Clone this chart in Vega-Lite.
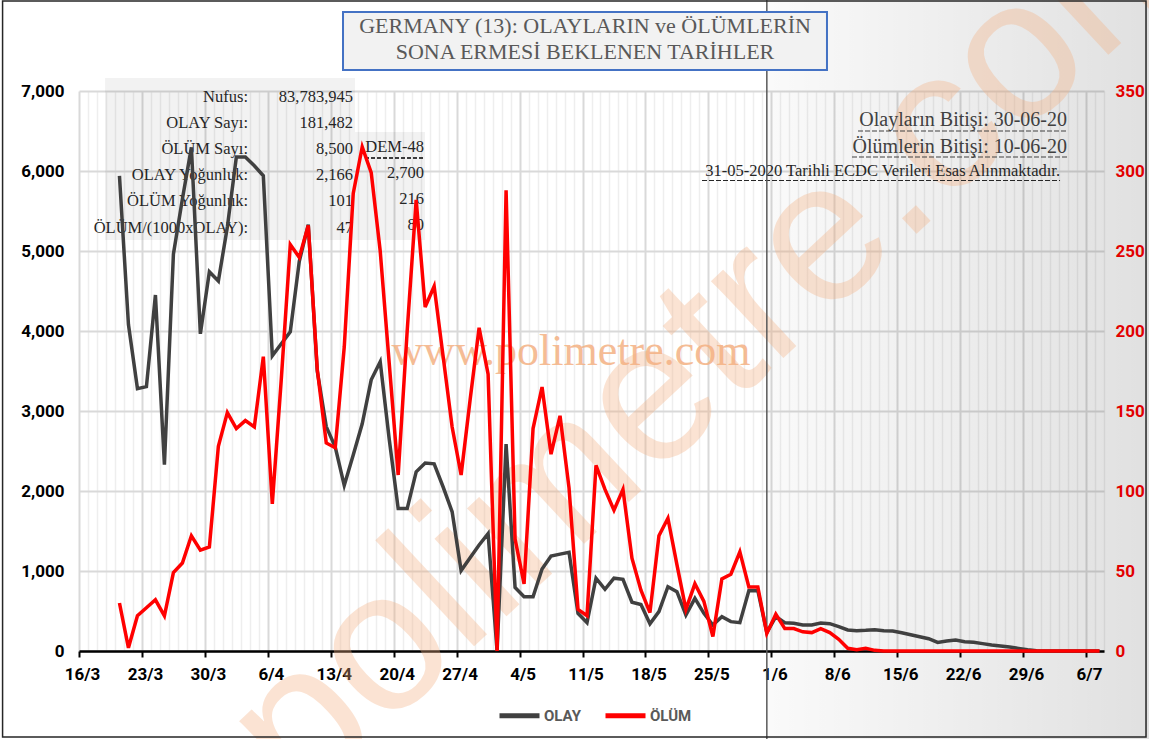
{
  "$schema": "https://vega.github.io/schema/vega-lite/v6.json",
  "width": 1025,
  "height": 560,
  "autosize": {"type": "none"},
  "padding": {"left": 79, "top": 91, "right": 45, "bottom": 88},
  "background": "#ffffff",
  "config": {"view": {"stroke": null}},
  "datasets": {
    "one": [{}],
    "d": [
      {"date":"2020-03-20","OLAY":5940,"OLUM":30},
      {"date":"2020-03-21","OLAY":4080,"OLUM":2},
      {"date":"2020-03-22","OLAY":3280,"OLUM":22},
      {"date":"2020-03-23","OLAY":3305,"OLUM":27},
      {"date":"2020-03-24","OLAY":4450,"OLUM":32},
      {"date":"2020-03-25","OLAY":2330,"OLUM":22},
      {"date":"2020-03-26","OLAY":4960,"OLUM":49},
      {"date":"2020-03-27","OLAY":5650,"OLUM":55},
      {"date":"2020-03-28","OLAY":6295,"OLUM":72},
      {"date":"2020-03-29","OLAY":3965,"OLUM":63},
      {"date":"2020-03-30","OLAY":4740,"OLUM":65},
      {"date":"2020-03-31","OLAY":4625,"OLUM":128},
      {"date":"2020-04-01","OLAY":5300,"OLUM":149},
      {"date":"2020-04-02","OLAY":6175,"OLUM":139},
      {"date":"2020-04-03","OLAY":6175,"OLUM":144},
      {"date":"2020-04-04","OLAY":6065,"OLUM":140},
      {"date":"2020-04-05","OLAY":5940,"OLUM":184},
      {"date":"2020-04-06","OLAY":3690,"OLUM":92},
      {"date":"2020-04-07","OLAY":3840,"OLUM":170},
      {"date":"2020-04-08","OLAY":3990,"OLUM":254},
      {"date":"2020-04-09","OLAY":4870,"OLUM":246},
      {"date":"2020-04-10","OLAY":5330,"OLUM":266},
      {"date":"2020-04-11","OLAY":3500,"OLUM":176},
      {"date":"2020-04-12","OLAY":2805,"OLUM":130},
      {"date":"2020-04-13","OLAY":2550,"OLUM":127},
      {"date":"2020-04-14","OLAY":2070,"OLUM":190},
      {"date":"2020-04-15","OLAY":2450,"OLUM":286},
      {"date":"2020-04-16","OLAY":2840,"OLUM":315},
      {"date":"2020-04-17","OLAY":3390,"OLUM":299},
      {"date":"2020-04-18","OLAY":3615,"OLUM":250},
      {"date":"2020-04-19","OLAY":2650,"OLUM":180},
      {"date":"2020-04-20","OLAY":1780,"OLUM":110},
      {"date":"2020-04-21","OLAY":1780,"OLUM":200},
      {"date":"2020-04-22","OLAY":2240,"OLUM":282},
      {"date":"2020-04-23","OLAY":2350,"OLUM":215},
      {"date":"2020-04-24","OLAY":2340,"OLUM":228},
      {"date":"2020-04-25","OLAY":2050,"OLUM":184},
      {"date":"2020-04-26","OLAY":1740,"OLUM":140},
      {"date":"2020-04-27","OLAY":1005,"OLUM":110},
      {"date":"2020-04-28","OLAY":1165,"OLUM":157},
      {"date":"2020-04-29","OLAY":1325,"OLUM":202},
      {"date":"2020-04-30","OLAY":1468,"OLUM":173},
      {"date":"2020-05-01","OLAY":0,"OLUM":0},
      {"date":"2020-05-02","OLAY":2585,"OLUM":288},
      {"date":"2020-05-03","OLAY":794,"OLUM":70},
      {"date":"2020-05-04","OLAY":679,"OLUM":42},
      {"date":"2020-05-05","OLAY":679,"OLUM":139},
      {"date":"2020-05-06","OLAY":1026,"OLUM":165},
      {"date":"2020-05-07","OLAY":1188,"OLUM":123},
      {"date":"2020-05-08","OLAY":1211,"OLUM":147},
      {"date":"2020-05-09","OLAY":1234,"OLUM":102},
      {"date":"2020-05-10","OLAY":471,"OLUM":26},
      {"date":"2020-05-11","OLAY":355,"OLUM":22},
      {"date":"2020-05-12","OLAY":910,"OLUM":116},
      {"date":"2020-05-13","OLAY":771,"OLUM":101},
      {"date":"2020-05-14","OLAY":910,"OLUM":88},
      {"date":"2020-05-15","OLAY":896,"OLUM":101},
      {"date":"2020-05-16","OLAY":610,"OLUM":58},
      {"date":"2020-05-17","OLAY":580,"OLUM":38},
      {"date":"2020-05-18","OLAY":340,"OLUM":24},
      {"date":"2020-05-19","OLAY":492,"OLUM":72},
      {"date":"2020-05-20","OLAY":804,"OLUM":83},
      {"date":"2020-05-21","OLAY":742,"OLUM":54},
      {"date":"2020-05-22","OLAY":450,"OLUM":26},
      {"date":"2020-05-23","OLAY":658,"OLUM":42},
      {"date":"2020-05-24","OLAY":471,"OLUM":31},
      {"date":"2020-05-25","OLAY":325,"OLUM":9},
      {"date":"2020-05-26","OLAY":429,"OLUM":45},
      {"date":"2020-05-27","OLAY":367,"OLUM":48},
      {"date":"2020-05-28","OLAY":354,"OLUM":62},
      {"date":"2020-05-29","OLAY":754,"OLUM":40},
      {"date":"2020-05-30","OLAY":754,"OLUM":40},
      {"date":"2020-05-31","OLAY":230,"OLUM":11},
      {"date":"2020-06-01","OLAY":430,"OLUM":23},
      {"date":"2020-06-02","OLAY":354,"OLUM":14},
      {"date":"2020-06-03","OLAY":346,"OLUM":14},
      {"date":"2020-06-04","OLAY":325,"OLUM":12},
      {"date":"2020-06-05","OLAY":325,"OLUM":11.5},
      {"date":"2020-06-06","OLAY":350,"OLUM":14},
      {"date":"2020-06-07","OLAY":342,"OLUM":11.5},
      {"date":"2020-06-08","OLAY":304,"OLUM":7.3},
      {"date":"2020-06-09","OLAY":263,"OLUM":1.7},
      {"date":"2020-06-10","OLAY":254,"OLUM":0.8},
      {"date":"2020-06-11","OLAY":258,"OLUM":1.7},
      {"date":"2020-06-12","OLAY":267,"OLUM":0.4},
      {"date":"2020-06-13","OLAY":254,"OLUM":0},
      {"date":"2020-06-14","OLAY":250,"OLUM":0},
      {"date":"2020-06-15","OLAY":229,"OLUM":0},
      {"date":"2020-06-16","OLAY":204,"OLUM":0},
      {"date":"2020-06-17","OLAY":179,"OLUM":0},
      {"date":"2020-06-18","OLAY":154,"OLUM":0},
      {"date":"2020-06-19","OLAY":108,"OLUM":0},
      {"date":"2020-06-20","OLAY":125,"OLUM":0},
      {"date":"2020-06-21","OLAY":137,"OLUM":0},
      {"date":"2020-06-22","OLAY":117,"OLUM":0},
      {"date":"2020-06-23","OLAY":108,"OLUM":0},
      {"date":"2020-06-24","OLAY":92,"OLUM":0},
      {"date":"2020-06-25","OLAY":75,"OLUM":0},
      {"date":"2020-06-26","OLAY":63,"OLUM":0},
      {"date":"2020-06-27","OLAY":50,"OLUM":0},
      {"date":"2020-06-28","OLAY":33,"OLUM":0},
      {"date":"2020-06-29","OLAY":17,"OLUM":0},
      {"date":"2020-06-30","OLAY":4,"OLUM":0},
      {"date":"2020-07-01","OLAY":0,"OLUM":0},
      {"date":"2020-07-02","OLAY":0,"OLUM":0},
      {"date":"2020-07-03","OLAY":0,"OLUM":0},
      {"date":"2020-07-04","OLAY":0,"OLUM":0},
      {"date":"2020-07-05","OLAY":0,"OLUM":0},
      {"date":"2020-07-06","OLAY":0,"OLUM":0},
      {"date":"2020-07-07","OLAY":0,"OLUM":0}
    ]
  },
  "layer": [
    {
      "layer": [
        {
          "data": {"name": "one"},
          "mark": {"type": "rect", "clip": false, "fill": {"gradient": "linear", "x1": 0, "y1": 0, "x2": 1, "y2": 0, "stops": [{"offset": 0, "color": "rgba(0,0,0,0.02)"}, {"offset": 1, "color": "rgba(0,0,0,0.12)"}]}},
          "encoding": {
            "x": {"datum": {"year": 2020, "month": 5, "date": 31, "hours": 12, "utc": true}, "type": "temporal", "scale": {"type": "utc", "domain": [{"year": 2020, "month": 3, "date": 16, "utc": true}, {"year": 2020, "month": 7, "date": 8, "utc": true}], "nice": false}, "axis": {"title": null}},
            "x2": {"datum": {"year": 2020, "month": 7, "date": 13, "hours": 12, "utc": true}},
            "y": {"datum": 8200, "type": "quantitative", "scale": {"domain": [0, 7000], "nice": false, "zero": false}, "axis": {"title": null}},
            "y2": {"datum": -1150}
          }
        },
        {
          "data": {"name": "one"},
          "mark": {"type": "text", "clip": false, "text": "polimetre.com", "font": "Liberation Sans", "fontSize": 200, "angle": -43, "fill": "#f4b183", "opacity": 0.35, "align": "center", "baseline": "middle"},
          "encoding": {
            "x": {"datum": {"year": 2020, "month": 5, "date": 26, "hours": 7, "utc": true}, "type": "temporal", "scale": {"type": "utc", "domain": [{"year": 2020, "month": 3, "date": 16, "utc": true}, {"year": 2020, "month": 7, "date": 8, "utc": true}], "nice": false}, "axis": {"title": null}},
            "y": {"datum": 3950, "type": "quantitative", "scale": {"domain": [0, 7000], "nice": false, "zero": false}, "axis": {"title": null}}
          }
        },
        {
          "data": {"name": "one"},
          "mark": {"type": "text", "clip": false, "text": "www.polimetre.com", "font": "Liberation Serif", "fontSize": 44, "fill": "#f4b183", "opacity": 0.85, "align": "center", "baseline": "middle"},
          "encoding": {
            "x": {"datum": {"year": 2020, "month": 5, "date": 9, "hours": 17, "minutes": 17, "utc": true}, "type": "temporal", "scale": {"type": "utc", "domain": [{"year": 2020, "month": 3, "date": 16, "utc": true}, {"year": 2020, "month": 7, "date": 8, "utc": true}], "nice": false}, "axis": {"title": null}},
            "y": {"datum": 3737, "type": "quantitative", "scale": {"domain": [0, 7000], "nice": false, "zero": false}, "axis": {"title": null}}
          }
        },
        {
          "data": {"name": "one"},
          "mark": {"type": "rect", "clip": false, "fill": "#000000", "fillOpacity": 0.05},
          "encoding": {
            "x": {"datum": {"year": 2020, "month": 3, "date": 18, "hours": 21, "minutes": 25, "utc": true}, "type": "temporal", "scale": {"type": "utc", "domain": [{"year": 2020, "month": 3, "date": 16, "utc": true}, {"year": 2020, "month": 7, "date": 8, "utc": true}], "nice": false}, "axis": {"title": null}},
            "x2": {"datum": {"year": 2020, "month": 4, "date": 15, "hours": 16, "minutes": 45, "utc": true}},
            "y": {"datum": 7162, "type": "quantitative", "scale": {"domain": [0, 7000], "nice": false, "zero": false}, "axis": {"title": null}},
            "y2": {"datum": 5137}
          }
        },
        {
          "data": {"name": "one"},
          "mark": {"type": "rect", "clip": false, "fill": "#000000", "fillOpacity": 0.05},
          "encoding": {
            "x": {"datum": {"year": 2020, "month": 4, "date": 15, "hours": 16, "minutes": 45, "utc": true}, "type": "temporal", "scale": {"type": "utc", "domain": [{"year": 2020, "month": 3, "date": 16, "utc": true}, {"year": 2020, "month": 7, "date": 8, "utc": true}], "nice": false}, "axis": {"title": null}},
            "x2": {"datum": {"year": 2020, "month": 4, "date": 23, "hours": 11, "minutes": 36, "utc": true}},
            "y": {"datum": 6487, "type": "quantitative", "scale": {"domain": [0, 7000], "nice": false, "zero": false}, "axis": {"title": null}},
            "y2": {"datum": 5137}
          }
        },
        {
          "data": {"name": "one"},
          "mark": {"type": "text", "clip": false, "text": ["Nufus:", "OLAY Sayı:", "ÖLÜM Sayı:", "OLAY Yoğunluk:", "ÖLÜM Yoğunluk:", "ÖLÜM/(1000xOLAY):"], "lineHeight": 26.2, "font": "Liberation Serif", "fontSize": 16.5, "fill": "#262626", "align": "right", "baseline": "middle"},
          "encoding": {
            "x": {"datum": {"year": 2020, "month": 4, "date": 3, "hours": 19, "minutes": 8, "utc": true}, "type": "temporal", "scale": {"type": "utc", "domain": [{"year": 2020, "month": 3, "date": 16, "utc": true}, {"year": 2020, "month": 7, "date": 8, "utc": true}], "nice": false}, "axis": {"title": null}},
            "y": {"datum": 6929, "type": "quantitative", "scale": {"domain": [0, 7000], "nice": false, "zero": false}, "axis": {"title": null}}
          }
        },
        {
          "data": {"name": "one"},
          "mark": {"type": "text", "clip": false, "text": ["83,783,945", "181,482", "8,500", "2,166", "101", "47"], "lineHeight": 26.2, "font": "Liberation Serif", "fontSize": 16.5, "fill": "#262626", "align": "right", "baseline": "middle"},
          "encoding": {
            "x": {"datum": {"year": 2020, "month": 4, "date": 15, "hours": 11, "minutes": 24, "utc": true}, "type": "temporal", "scale": {"type": "utc", "domain": [{"year": 2020, "month": 3, "date": 16, "utc": true}, {"year": 2020, "month": 7, "date": 8, "utc": true}], "nice": false}, "axis": {"title": null}},
            "y": {"datum": 6929, "type": "quantitative", "scale": {"domain": [0, 7000], "nice": false, "zero": false}, "axis": {"title": null}}
          }
        },
        {
          "data": {"name": "one"},
          "mark": {"type": "text", "clip": false, "text": ["DEM-48", "2,700", "216", "80"], "lineHeight": 26.2, "font": "Liberation Serif", "fontSize": 16.5, "fill": "#262626", "align": "right", "baseline": "middle"},
          "encoding": {
            "x": {"datum": {"year": 2020, "month": 4, "date": 23, "hours": 8, "minutes": 56, "utc": true}, "type": "temporal", "scale": {"type": "utc", "domain": [{"year": 2020, "month": 3, "date": 16, "utc": true}, {"year": 2020, "month": 7, "date": 8, "utc": true}], "nice": false}, "axis": {"title": null}},
            "y": {"datum": 6304, "type": "quantitative", "scale": {"domain": [0, 7000], "nice": false, "zero": false}, "axis": {"title": null}}
          }
        },
        {
          "data": {"name": "one"},
          "mark": {"type": "rule", "clip": false, "color": "#000000", "strokeWidth": 1.5, "strokeDash": [4, 2]},
          "encoding": {
            "x": {"datum": {"year": 2020, "month": 4, "date": 16, "hours": 19, "minutes": 26, "utc": true}, "type": "temporal", "scale": {"type": "utc", "domain": [{"year": 2020, "month": 3, "date": 16, "utc": true}, {"year": 2020, "month": 7, "date": 8, "utc": true}], "nice": false}, "axis": {"title": null}},
            "x2": {"datum": {"year": 2020, "month": 4, "date": 23, "hours": 8, "minutes": 56, "utc": true}},
            "y": {"datum": 6162, "type": "quantitative", "scale": {"domain": [0, 7000], "nice": false, "zero": false}, "axis": {"title": null}}
          }
        },
        {
          "data": {"name": "one"},
          "mark": {"type": "text", "clip": false, "text": "Olayların Bitişi: 30-06-20", "font": "Liberation Serif", "fontSize": 20, "fill": "#404040", "align": "right", "baseline": "middle"},
          "encoding": {
            "x": {"datum": {"year": 2020, "month": 7, "date": 3, "hours": 21, "minutes": 19, "utc": true}, "type": "temporal", "scale": {"type": "utc", "domain": [{"year": 2020, "month": 3, "date": 16, "utc": true}, {"year": 2020, "month": 7, "date": 8, "utc": true}], "nice": false}, "axis": {"title": null}},
            "y": {"datum": 6637, "type": "quantitative", "scale": {"domain": [0, 7000], "nice": false, "zero": false}, "axis": {"title": null}}
          }
        },
        {
          "data": {"name": "one"},
          "mark": {"type": "text", "clip": false, "text": "Ölümlerin Bitişi: 10-06-20", "font": "Liberation Serif", "fontSize": 20, "fill": "#404040", "align": "right", "baseline": "middle"},
          "encoding": {
            "x": {"datum": {"year": 2020, "month": 7, "date": 3, "hours": 21, "minutes": 19, "utc": true}, "type": "temporal", "scale": {"type": "utc", "domain": [{"year": 2020, "month": 3, "date": 16, "utc": true}, {"year": 2020, "month": 7, "date": 8, "utc": true}], "nice": false}, "axis": {"title": null}},
            "y": {"datum": 6294, "type": "quantitative", "scale": {"domain": [0, 7000], "nice": false, "zero": false}, "axis": {"title": null}}
          }
        },
        {
          "data": {"name": "one"},
          "mark": {"type": "text", "clip": false, "text": "31-05-2020 Tarihli ECDC Verileri Esas Alınmaktadır.", "font": "Liberation Serif", "fontSize": 16.5, "fill": "#262626", "align": "right", "baseline": "middle"},
          "encoding": {
            "x": {"datum": {"year": 2020, "month": 7, "date": 3, "hours": 2, "minutes": 37, "utc": true}, "type": "temporal", "scale": {"type": "utc", "domain": [{"year": 2020, "month": 3, "date": 16, "utc": true}, {"year": 2020, "month": 7, "date": 8, "utc": true}], "nice": false}, "axis": {"title": null}},
            "y": {"datum": 6000, "type": "quantitative", "scale": {"domain": [0, 7000], "nice": false, "zero": false}, "axis": {"title": null}}
          }
        },
        {
          "data": {"name": "one"},
          "mark": {"type": "rule", "clip": false, "color": "#404040", "strokeWidth": 1.2, "strokeDash": [5, 2]},
          "encoding": {
            "x": {"datum": {"year": 2020, "month": 6, "date": 10, "hours": 15, "minutes": 22, "utc": true}, "type": "temporal", "scale": {"type": "utc", "domain": [{"year": 2020, "month": 3, "date": 16, "utc": true}, {"year": 2020, "month": 7, "date": 8, "utc": true}], "nice": false}, "axis": {"title": null}},
            "x2": {"datum": {"year": 2020, "month": 7, "date": 3, "hours": 21, "minutes": 19, "utc": true}},
            "y": {"datum": 6500, "type": "quantitative", "scale": {"domain": [0, 7000], "nice": false, "zero": false}, "axis": {"title": null}}
          }
        },
        {
          "data": {"name": "one"},
          "mark": {"type": "rule", "clip": false, "color": "#404040", "strokeWidth": 1.2, "strokeDash": [5, 2]},
          "encoding": {
            "x": {"datum": {"year": 2020, "month": 6, "date": 9, "hours": 23, "minutes": 20, "utc": true}, "type": "temporal", "scale": {"type": "utc", "domain": [{"year": 2020, "month": 3, "date": 16, "utc": true}, {"year": 2020, "month": 7, "date": 8, "utc": true}], "nice": false}, "axis": {"title": null}},
            "x2": {"datum": {"year": 2020, "month": 7, "date": 3, "hours": 21, "minutes": 19, "utc": true}},
            "y": {"datum": 6175, "type": "quantitative", "scale": {"domain": [0, 7000], "nice": false, "zero": false}, "axis": {"title": null}}
          }
        },
        {
          "data": {"name": "one"},
          "mark": {"type": "rule", "clip": false, "color": "#262626", "strokeWidth": 1.2, "strokeDash": [5, 2]},
          "encoding": {
            "x": {"datum": {"year": 2020, "month": 5, "date": 24, "hours": 6, "minutes": 58, "utc": true}, "type": "temporal", "scale": {"type": "utc", "domain": [{"year": 2020, "month": 3, "date": 16, "utc": true}, {"year": 2020, "month": 7, "date": 8, "utc": true}], "nice": false}, "axis": {"title": null}},
            "x2": {"datum": {"year": 2020, "month": 7, "date": 3, "hours": 2, "minutes": 37, "utc": true}},
            "y": {"datum": 5881, "type": "quantitative", "scale": {"domain": [0, 7000], "nice": false, "zero": false}, "axis": {"title": null}}
          }
        },
        {
          "data": {"name": "one"},
          "mark": {"type": "rule", "clip": false, "color": "#595959", "strokeWidth": 1.5},
          "encoding": {
            "x": {"datum": {"year": 2020, "month": 5, "date": 31, "hours": 12, "utc": true}, "type": "temporal", "scale": {"type": "utc", "domain": [{"year": 2020, "month": 3, "date": 16, "utc": true}, {"year": 2020, "month": 7, "date": 8, "utc": true}], "nice": false}, "axis": {"title": null}},
            "y": {"datum": 8200, "type": "quantitative", "scale": {"domain": [0, 7000], "nice": false, "zero": false}, "axis": {"title": null}},
            "y2": {"datum": -1150}
          }
        },
        {
          "data": {"name": "one"},
          "mark": {"type": "rect", "clip": false, "fill": "#f2f2f2", "stroke": "#4472c4", "strokeWidth": 2},
          "encoding": {
            "x": {"datum": {"year": 2020, "month": 4, "date": 14, "hours": 8, "minutes": 43, "utc": true}, "type": "temporal", "scale": {"type": "utc", "domain": [{"year": 2020, "month": 3, "date": 16, "utc": true}, {"year": 2020, "month": 7, "date": 8, "utc": true}], "nice": false}, "axis": {"title": null}},
            "x2": {"datum": {"year": 2020, "month": 6, "date": 7, "hours": 4, "minutes": 34, "utc": true}},
            "y": {"datum": 7987, "type": "quantitative", "scale": {"domain": [0, 7000], "nice": false, "zero": false}, "axis": {"title": null}},
            "y2": {"datum": 7262}
          }
        },
        {
          "data": {"name": "one"},
          "mark": {"type": "text", "clip": false, "text": "GERMANY (13): OLAYLARIN  ve ÖLÜMLERİN", "font": "Liberation Serif", "fontSize": 22, "fill": "#595959", "align": "center", "baseline": "middle"},
          "encoding": {
            "x": {"datum": {"year": 2020, "month": 5, "date": 11, "hours": 6, "minutes": 43, "utc": true}, "type": "temporal", "scale": {"type": "utc", "domain": [{"year": 2020, "month": 3, "date": 16, "utc": true}, {"year": 2020, "month": 7, "date": 8, "utc": true}], "nice": false}, "axis": {"title": null}},
            "y": {"datum": 7816, "type": "quantitative", "scale": {"domain": [0, 7000], "nice": false, "zero": false}, "axis": {"title": null}}
          }
        },
        {
          "data": {"name": "one"},
          "mark": {"type": "text", "clip": false, "text": "SONA ERMESİ  BEKLENEN  TARİHLER", "font": "Liberation Serif", "fontSize": 22, "fill": "#595959", "align": "center", "baseline": "middle"},
          "encoding": {
            "x": {"datum": {"year": 2020, "month": 5, "date": 11, "hours": 6, "minutes": 43, "utc": true}, "type": "temporal", "scale": {"type": "utc", "domain": [{"year": 2020, "month": 3, "date": 16, "utc": true}, {"year": 2020, "month": 7, "date": 8, "utc": true}], "nice": false}, "axis": {"title": null}},
            "y": {"datum": 7491, "type": "quantitative", "scale": {"domain": [0, 7000], "nice": false, "zero": false}, "axis": {"title": null}}
          }
        },
        {
          "data": {"name": "one"},
          "mark": {"type": "rect", "clip": false, "fillOpacity": 0, "stroke": "#262626", "strokeWidth": 1.5},
          "encoding": {
            "x": {"datum": {"year": 2020, "month": 3, "date": 7, "hours": 12, "utc": true}, "type": "temporal", "scale": {"type": "utc", "domain": [{"year": 2020, "month": 3, "date": 16, "utc": true}, {"year": 2020, "month": 7, "date": 8, "utc": true}], "nice": false}, "axis": {"title": null}},
            "x2": {"datum": {"year": 2020, "month": 7, "date": 12, "hours": 16, "minutes": 10, "utc": true}},
            "y": {"datum": 8125, "type": "quantitative", "scale": {"domain": [0, 7000], "nice": false, "zero": false}, "axis": {"title": null}},
            "y2": {"datum": -1075}
          }
        },
        {
          "data": {"name": "d"},
          "mark": {"type": "line", "strokeWidth": 3.5, "timeUnitBandPosition": 0.5},
          "encoding": {
            "x": {
              "field": "date", "timeUnit": "utcyearmonthdate", "type": "temporal", "bandPosition": 0.5,
              "scale": {"type": "utc", "domain": [{"year": 2020, "month": 3, "date": 16, "utc": true}, {"year": 2020, "month": 7, "date": 8, "utc": true}], "nice": false},
              "axis": {
                "title": null,
                "tickCount": {"interval": "day", "step": 1},
                "labelExpr": "round((datum.value - 1584316800000) / 86400000) % 7 === 0 ? utcFormat(datum.value, '%-d/%-m') : ''",
                "labelOverlap": false, "labelFlush": false, "labelBound": false,
                "labelFont": "Roboto", "labelFontWeight": "bold", "labelFontSize": 17, "labelColor": "#000000",
                "labelPadding": 9, "labelOffset": 3,
                "domainColor": "#000000", "domainWidth": 2.5,
                "tickColor": {"condition": {"test": "round((datum.value - 1584316800000) / 86400000) % 7 === 0", "value": "#000000"}, "value": "transparent"},
                "tickSize": 6, "tickWidth": 2,
                "grid": true,
                "gridColor": {"condition": {"test": "round((datum.value - 1584316800000) / 86400000) % 7 === 0", "value": "#d9d9d9"}, "value": "#eeeeee"},
                "gridWidth": {"condition": {"test": "round((datum.value - 1584316800000) / 86400000) % 7 === 0", "value": 2}, "value": 1.5}
              }
            },
            "y": {
              "field": "OLAY", "type": "quantitative",
              "scale": {"domain": [0, 7000], "nice": false, "zero": false},
              "axis": {"title": null, "values": [0, 1000, 2000, 3000, 4000, 5000, 6000, 7000], "labelExpr": "format(datum.value, ',')", "labelFont": "Roboto", "labelFontWeight": "bold", "labelFontSize": 17, "labelColor": "#000000", "labelPadding": 15, "domain": false, "ticks": false, "grid": true, "gridColor": "#d9d9d9", "gridWidth": 2}
            },
            "color": {
              "datum": "OLAY", "type": "nominal",
              "scale": {"domain": ["OLAY", "ÖLÜM"], "range": ["#404040", "#ff0000"]},
              "legend": {"title": null, "orient": "none", "legendX": 418, "legendY": 602, "direction": "horizontal", "symbolType": "stroke", "symbolSize": 1600, "symbolStrokeWidth": 5, "labelFont": "Roboto", "labelFontWeight": "bold", "labelFontSize": 15, "labelColor": "#595959", "labelOffset": 2, "columnPadding": 14}
            }
          }
        }
      ]
    },
    {
      "data": {"name": "d"},
      "mark": {"type": "line", "strokeWidth": 3.5, "timeUnitBandPosition": 0.5},
      "encoding": {
        "x": {
          "field": "date", "timeUnit": "utcyearmonthdate", "type": "temporal", "bandPosition": 0.5,
          "scale": {"type": "utc", "domain": [{"year": 2020, "month": 3, "date": 16, "utc": true}, {"year": 2020, "month": 7, "date": 8, "utc": true}], "nice": false}
        },
        "y": {
          "field": "OLUM", "type": "quantitative",
          "scale": {"domain": [0, 350], "nice": false, "zero": false},
          "axis": {"title": null, "orient": "right", "values": [0, 50, 100, 150, 200, 250, 300, 350], "format": "d", "labelFont": "Roboto", "labelFontWeight": "bold", "labelFontSize": 17, "labelColor": "#ff0000", "labelPadding": 11, "domain": false, "ticks": false, "grid": false}
        },
        "color": {
          "datum": "ÖLÜM", "type": "nominal",
          "scale": {"domain": ["OLAY", "ÖLÜM"], "range": ["#404040", "#ff0000"]},
          "legend": {"title": null, "orient": "none", "legendX": 418, "legendY": 602, "direction": "horizontal", "symbolType": "stroke", "symbolSize": 1600, "symbolStrokeWidth": 5, "labelFont": "Roboto", "labelFontWeight": "bold", "labelFontSize": 15, "labelColor": "#595959", "labelOffset": 2, "columnPadding": 14}
        }
      }
    }
  ],
  "resolve": {"scale": {"y": "independent"}}
}
